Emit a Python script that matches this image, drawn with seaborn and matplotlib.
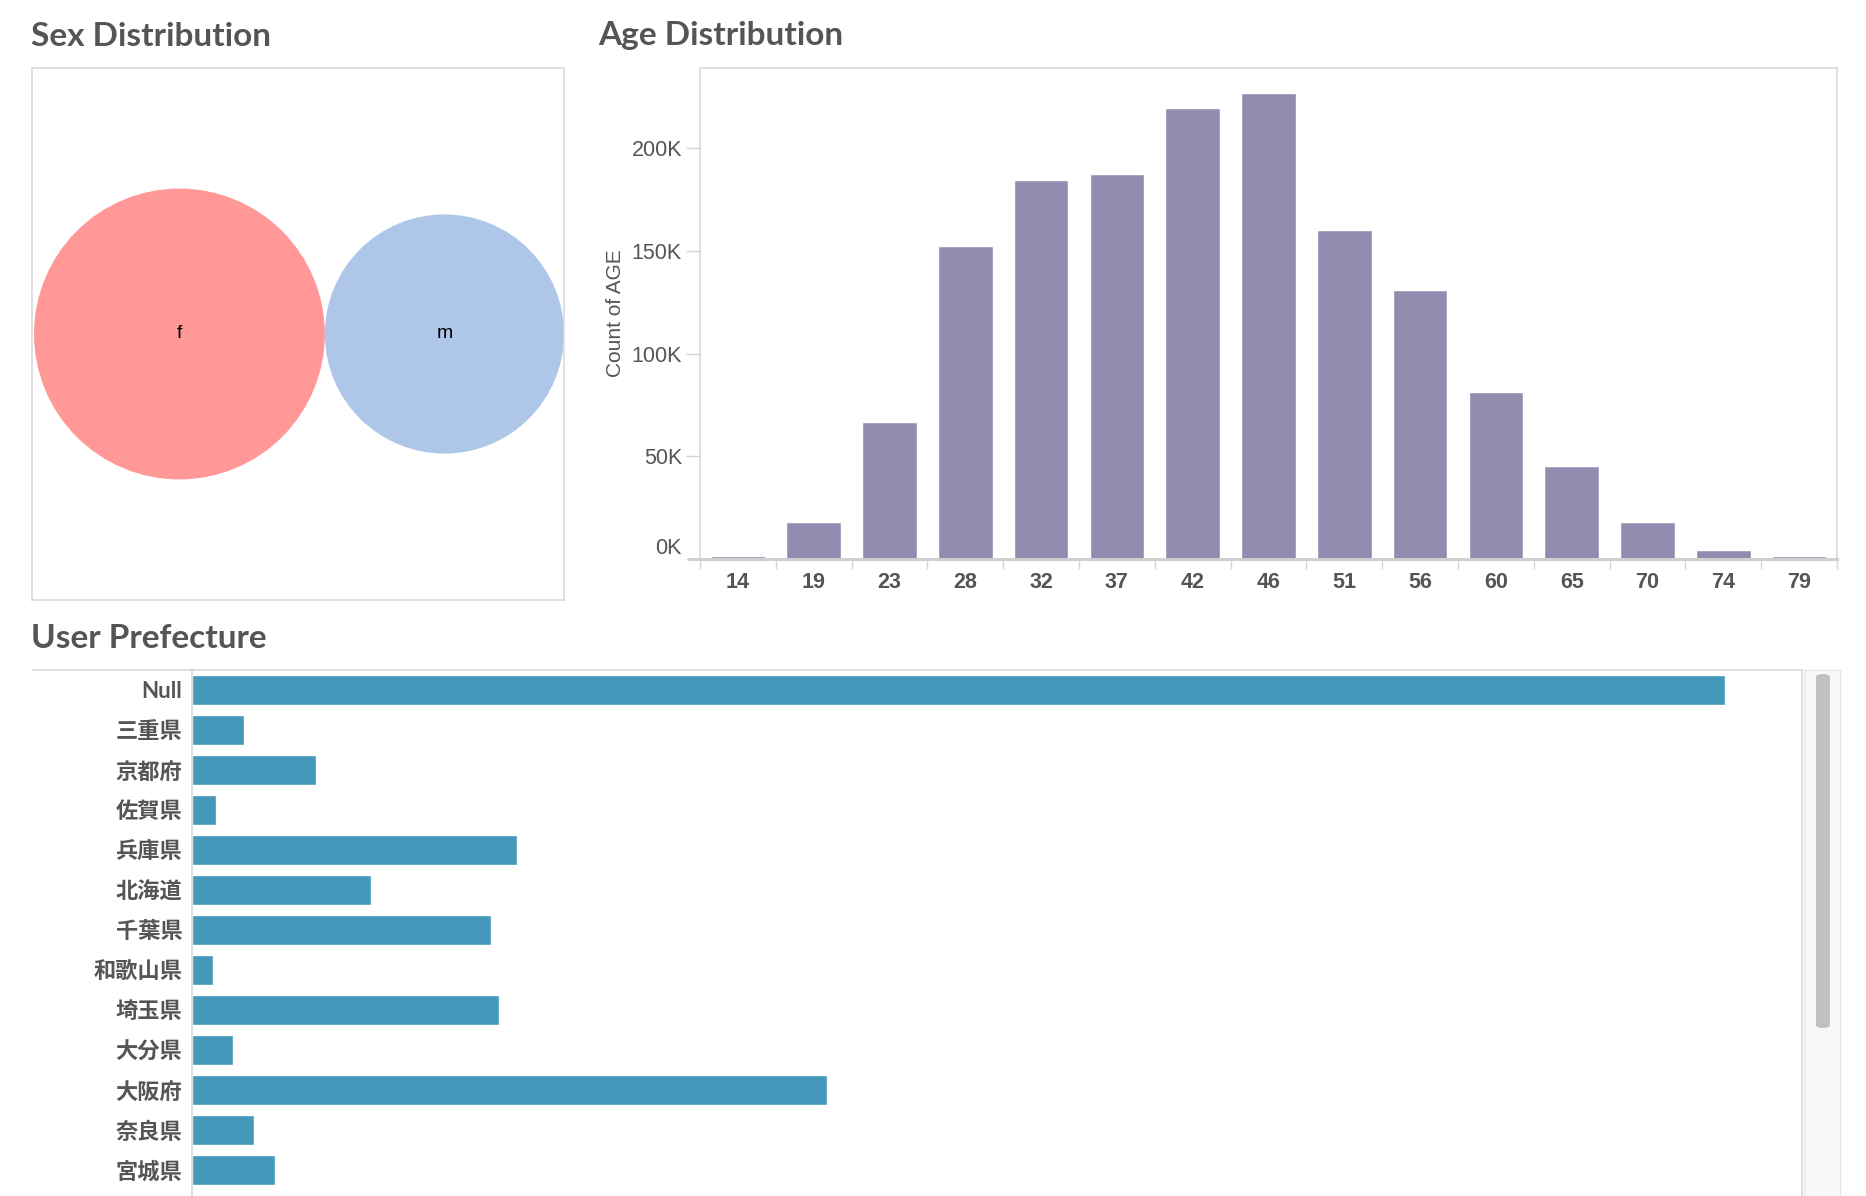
import numpy as np
import pandas as pd
import matplotlib
matplotlib.use('Agg')
import matplotlib.pyplot as plt
import seaborn as sns
from matplotlib.patches import Circle, Rectangle, FancyBboxPatch
from matplotlib.lines import Line2D
from matplotlib.ticker import FuncFormatter

# ---------------- data ----------------
sexes = ['f', 'm']
sex_counts = [895000, 605000]

age_labels = ['14', '19', '23', '28', '32', '37', '42', '46', '51', '56', '60', '65', '70', '74', '79']
age_counts = [1600, 18000, 66700, 152300, 184400, 187300, 219600, 227000,
              160000, 130900, 81250, 45300, 18000, 4500, 1600]
age_ticks = [0, 50000, 100000, 150000, 200000]

prefectures = ['Null', '三重県', '京都府', '佐賀県', '兵庫県', '北海道', '千葉県',
               '和歌山県', '埼玉県', '大分県', '大阪府', '奈良県', '宮城県']
pref_counts = [153400, 5180, 12370, 2370, 32540, 17950, 29960,
               2140, 30760, 4150, 63550, 6160, 8350]

# ---------------- style ----------------
sns.set_theme(style='white')
plt.rcParams['font.family'] = ['Liberation Sans', 'Noto Sans CJK JP']

TXT = '#555555'
BORDER = '#d9d9d9'
W, H = 1866, 1196
fig = plt.figure(figsize=(W / 100, H / 100), dpi=100)
fig.patch.set_facecolor('white')


def rect(l, t, r, b):
    return [l / W, 1 - b / H, (r - l) / W, (b - t) / H]


def fx(x):
    return x / W


def fy(y):
    return 1 - y / H


title_kw = dict(fontsize=24, fontweight='bold', color=TXT, va='center', ha='left',
                family=['Lato', 'Noto Sans CJK JP'])
fig.text(fx(31), fy(36), 'Sex Distribution', **title_kw)
fig.text(fx(598), fy(36), 'Age Distribution', **title_kw)
fig.text(fx(31), fy(638), 'User Prefecture', **title_kw)

# ---------------- Sex distribution (packed bubbles) ----------------
ax1 = fig.add_axes(rect(32, 68, 564, 600))
box = 532
ax1.set_xlim(0, box)
ax1.set_ylim(0, box)
ax1.set_xticks([])
ax1.set_yticks([])
for s in ax1.spines.values():
    s.set_color(BORDER)
    s.set_linewidth(1.2)
radii = np.sqrt(np.array(sex_counts, dtype=float))
radii = radii * (box - 2) / (2 * radii.sum())
centers_x = [2 + radii[0], 2 + 2 * radii[0] + radii[1]]
sex_colors = ['#FF9896', '#AEC7E8']
for lab, cx, r, c in zip(sexes, centers_x, radii, sex_colors):
    ax1.add_patch(Circle((cx, box / 2), r, facecolor=c, edgecolor='none'))
    ax1.text(cx, box / 2, lab, ha='center', va='center', fontsize=14, color='black')

# ---------------- Age distribution ----------------
ax2 = fig.add_axes(rect(700, 68, 1837, 559))
sns.barplot(x=age_labels, y=age_counts, order=age_labels, color='#928DB0',
            saturation=1, width=0.72, ax=ax2)
ax2.set_xlim(-0.5, len(age_labels) - 0.5)
ax2.set_ylim(0, 239000)
ax2.set_yticks(age_ticks)
ax2.yaxis.set_major_formatter(FuncFormatter(lambda v, p: f'{int(round(v / 1000))}K'))
ax2.tick_params(axis='y', which='major', length=10, width=1, color='#d4d4d4',
                labelsize=15.5, labelcolor=TXT, pad=3, left=True, direction='out')
ax2.set_xticks(range(len(age_labels)))
ax2.set_xticklabels(age_labels, fontweight='bold')
ax2.set_xticks(np.arange(-0.5, len(age_labels), 1), minor=True)
ax2.tick_params(axis='x', which='major', length=0, pad=9, labelsize=15.5, labelcolor=TXT)
ax2.tick_params(axis='x', which='minor', length=7, width=1, color='#d4d4d4',
                bottom=True, direction='out')
for lbl in ax2.get_yticklabels():
    if lbl.get_text() == '0K':
        lbl.set_va('bottom')
ax2.set_xlabel('')
ax2.set_ylabel('Count of AGE', fontsize=15, color=TXT)
ax2.yaxis.set_label_coords(-0.066, 0.5)
for name in ['left', 'top', 'right']:
    ax2.spines[name].set_color(BORDER)
    ax2.spines[name].set_linewidth(1.2)
ax2.spines['bottom'].set_color('#cfcfcf')
ax2.spines['bottom'].set_linewidth(2.2)
fig.add_artist(Line2D([fx(689), fx(700)], [fy(559), fy(559)], color='#cfcfcf', lw=2.2))

# ---------------- User prefecture ----------------
ax3 = fig.add_axes(rect(192, 670, 1802, 1196))
sns.barplot(x=pref_counts, y=prefectures, order=prefectures, orient='h',
            color='#4499BA', saturation=1, width=0.74, ax=ax3)
ax3.set_xlim(0, 161100)
ax3.set_ylim(12.65, -0.5)
ax3.set_xticks([])
ax3.set_xlabel('')
ax3.set_ylabel('')
ax3.tick_params(axis='y', length=0, pad=7, labelsize=16, labelcolor=TXT)
for lbl in ax3.get_yticklabels():
    lbl.set_fontfamily(['Lato', 'Noto Sans CJK JP'])
    lbl.set_fontweight('bold')
for name in ['left', 'top', 'right']:
    ax3.spines[name].set_color(BORDER)
    ax3.spines[name].set_linewidth(1.2)
ax3.spines['bottom'].set_visible(False)
fig.add_artist(Line2D([fx(32), fx(192)], [fy(670), fy(670)], color=BORDER, lw=1.2))

# scrollbar
fig.add_artist(Rectangle((fx(1804), fy(1196)), fx(1840) - fx(1804), fy(670) - fy(1196),
                         facecolor='#f8f8f8', edgecolor='#e6e6e6', lw=1))
fig.add_artist(FancyBboxPatch((fx(1816), fy(1028)), fx(1830) - fx(1816), fy(674) - fy(1028),
                              boxstyle='round,pad=0,rounding_size=0.004',
                              facecolor='#c1c1c1', edgecolor='none',
                              mutation_aspect=H / W))

fig.savefig('out.png', dpi=100)
